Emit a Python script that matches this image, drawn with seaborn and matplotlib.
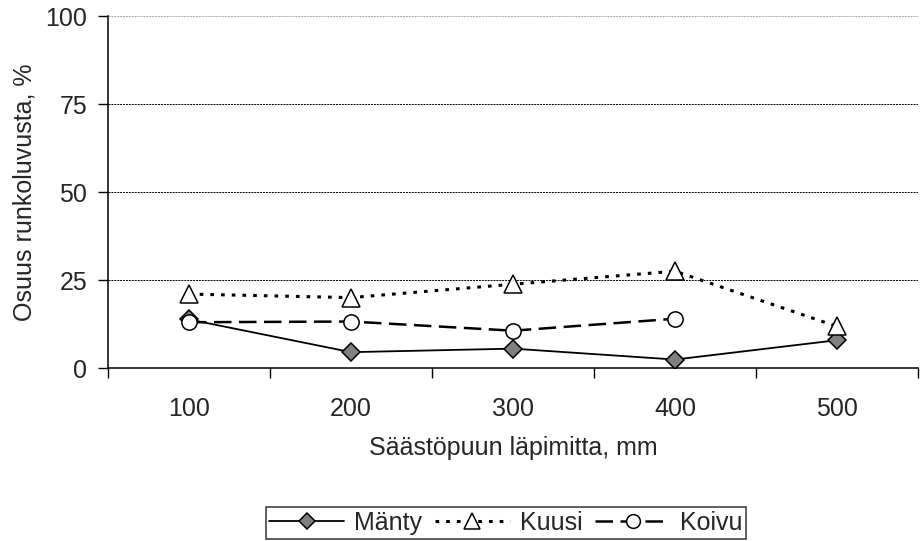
import numpy as np
import pandas as pd
import matplotlib
matplotlib.use("Agg")
import matplotlib.pyplot as plt
import seaborn as sns
from matplotlib.lines import Line2D

categories = ["100", "200", "300", "400", "500"]
manty = [13.8, 4.5, 5.5, 2.4, 7.9]
kuusi = [21.0, 20.0, 23.8, 27.5, 11.8]
koivu = [13.0, 13.2, 10.6, 14.0]
series_names = ["Mänty", "Kuusi", "Koivu"]
yticks = [0, 25, 50, 75, 100]
xlabel = "Säästöpuun läpimitta, mm"
ylabel = "Osuus runkoluvusta, %"

sns.set_style("white")
plt.rcParams["font.family"] = ["Liberation Sans", "DejaVu Sans"]
FS = 18

fig = plt.figure(figsize=(9.21, 5.41), dpi=100)
ax = fig.add_axes([108 / 921, 1 - 368 / 541, (918 - 108) / 921, (368 - 16) / 541])

xpos = np.arange(len(categories))

# grid lines
for yv in yticks[1:-1]:
    ax.axhline(yv, color="black", lw=0.7, ls=(0, (2, 1)), zorder=0)
ax.axhline(100, color="#aaaaaa", lw=0.7, ls=(0, (2, 1)), zorder=0)

styles = {
    "Mänty": dict(color="black", lw=1.3, ls="-", marker="D", ms=9.5,
                  mfc="#808080", mec="black", mew=1.1),
    "Kuusi": dict(color="black", lw=2.2, ls=(0, (1.2, 2.3)), marker="^", ms=13,
                  mfc="white", mec="black", mew=1.1),
    "Koivu": dict(color="black", lw=1.8, ls=(0, (7, 3)), marker="o", ms=11,
                  mfc="white", mec="black", mew=1.1),
}

data = {"Mänty": manty, "Kuusi": kuusi, "Koivu": koivu}
for name in series_names:
    vals = data[name]
    st = styles[name]
    sns.lineplot(x=xpos[:len(vals)], y=vals, ax=ax, color=st["color"],
                 linewidth=st["lw"], linestyle=st["ls"], marker=st["marker"],
                 markersize=st["ms"], markerfacecolor=st["mfc"],
                 markeredgecolor=st["mec"], markeredgewidth=st["mew"],
                 legend=False, zorder=3)

ax.set_xlim(-0.5, len(categories) - 0.5)
ax.set_ylim(0, 100)
ax.set_xticks(xpos)
ax.set_xticklabels(categories, fontsize=FS)
ax.set_xticks(np.arange(-0.5, len(categories)), minor=True)
ax.tick_params(axis="x", which="major", length=0, pad=21)
ax.tick_params(axis="x", which="minor", length=7, width=1, color="black",
               direction="out", bottom=True)
ax.set_yticks(yticks)
ax.set_yticklabels([str(v) for v in yticks], fontsize=FS)
ax.tick_params(axis="y", which="major", length=7, width=1, color="black",
               direction="out", left=True, pad=8)

for s in ["top", "right"]:
    ax.spines[s].set_visible(False)
for s in ["left", "bottom"]:
    ax.spines[s].set_color("black")
    ax.spines[s].set_linewidth(1.1)

ax.set_xlabel(xlabel, fontsize=FS, labelpad=11)
ax.set_ylabel(ylabel, fontsize=FS, labelpad=6)

handles = []
for name in series_names:
    st = styles[name]
    handles.append(Line2D([], [], color=st["color"], lw=st["lw"], ls=st["ls"],
                          marker=st["marker"], ms=st["ms"] * 0.9,
                          mfc=st["mfc"], mec=st["mec"], mew=st["mew"]))
leg = fig.legend(handles, series_names, loc="lower center", ncol=3,
                 bbox_to_anchor=(506 / 921, 0.004), fontsize=FS, frameon=True,
                 fancybox=False, edgecolor="black", handlelength=3.0,
                 handletextpad=0.4, columnspacing=0.5, borderpad=0.15,
                 borderaxespad=0)
leg.get_frame().set_linewidth(1.1)

fig.savefig("out.png", dpi=100)
